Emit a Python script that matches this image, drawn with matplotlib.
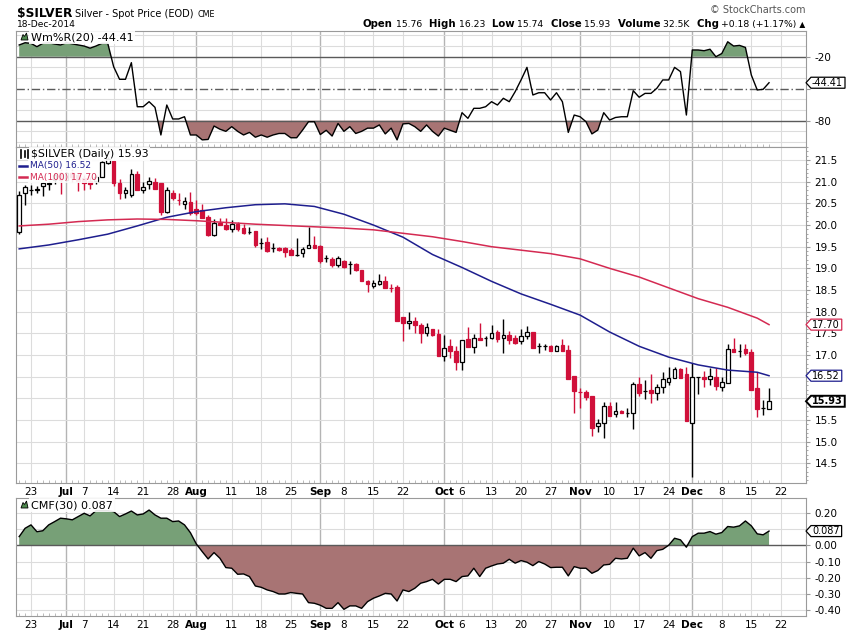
import numpy as np
import pandas as pd
import matplotlib
matplotlib.use("Agg")
import matplotlib.pyplot as plt
from matplotlib.patches import Polygon
from matplotlib.lines import Line2D

# ---------------- data ----------------
start_date = '2014-06-19'
end_date = '2014-12-29'
holidays = ['2014-07-04', '2014-09-01', '2014-11-27', '2014-12-25']

opens = [19.85, 20.75, 20.80, 20.82, 20.90, 20.95, 21.05, 21.20, 21.05, 21.20,
         21.15, 21.08, 21.02, 21.02, 21.12, 21.44, 21.48, 20.96, 20.73, 20.69,
         21.19, 20.81, 20.94, 21.00, 20.96, 20.31, 20.73, 20.59, 20.48, 20.54,
         20.38, 20.35, 20.19, 19.77, 20.04, 20.00, 19.92, 20.02, 19.94, 19.85,
         19.86, 19.58, 19.60, 19.46, 19.48, 19.46, 19.42, 19.31, 19.35, 19.48,
         19.54, 19.52, 19.23, 19.22, 19.08, 19.18, 19.09, 19.10, 18.96, 18.71,
         18.60, 18.65, 18.71, 18.55, 18.56, 17.88, 17.73, 17.78, 17.69, 17.51,
         17.59, 17.48, 16.97, 17.20, 17.10, 16.83, 17.36, 17.19, 17.40, 17.40,
         17.38, 17.53, 17.38, 17.46, 17.38, 17.33, 17.44, 17.54, 17.21, 17.21,
         17.21, 17.10, 17.23, 17.11, 16.51, 16.15, 16.15, 16.05, 15.37, 15.42,
         15.82, 15.64, 15.71, 15.67, 15.65, 16.33, 16.17, 16.19, 16.13, 16.27,
         16.38, 16.46, 16.67, 16.56, 15.42, 16.48, 16.48, 16.44, 16.48, 16.27,
         16.36, 17.14, 17.10, 17.14, 17.07, 16.23, 15.77, 15.76]
highs = [20.78, 20.93, 20.92, 20.90, 21.00, 21.02, 21.20, 21.30, 21.25, 21.30,
         21.20, 21.15, 21.10, 21.15, 21.48, 21.58, 21.50, 21.06, 20.88, 21.29,
         21.25, 21.00, 21.10, 21.08, 20.98, 20.89, 20.81, 20.75, 20.65, 20.77,
         20.58, 20.48, 20.23, 20.15, 20.17, 20.17, 20.12, 20.06, 20.02, 19.96,
         19.86, 19.71, 19.73, 19.58, 19.50, 19.50, 19.48, 19.69, 19.50, 19.95,
         19.75, 19.54, 19.31, 19.27, 19.29, 19.19, 19.17, 19.12, 18.96, 18.73,
         18.73, 18.88, 18.83, 18.65, 18.62, 17.88, 18.00, 17.88, 17.73, 17.73,
         17.61, 17.59, 17.46, 17.36, 17.20, 17.34, 17.64, 17.48, 17.74, 17.44,
         17.69, 17.58, 17.82, 17.56, 17.46, 17.59, 17.67, 17.54, 17.28, 17.25,
         17.23, 17.23, 17.36, 17.23, 16.51, 16.23, 16.20, 16.05, 15.53, 15.92,
         15.92, 15.92, 15.73, 15.77, 16.38, 16.48, 16.42, 16.57, 16.34, 16.61,
         16.73, 16.71, 16.69, 16.73, 16.82, 16.50, 16.64, 16.69, 16.69, 16.50,
         17.25, 17.38, 17.25, 17.25, 17.13, 16.61, 15.96, 16.23]
lows = [19.80, 20.47, 20.70, 20.75, 20.67, 20.80, 20.95, 20.72, 21.00, 21.00,
        20.78, 20.80, 20.83, 20.95, 21.10, 21.40, 20.90, 20.60, 20.62, 20.65,
        20.81, 20.73, 20.83, 20.83, 20.23, 20.27, 20.58, 20.47, 20.38, 20.24,
        20.24, 20.17, 19.75, 19.75, 19.99, 19.88, 19.85, 19.86, 19.79, 19.79,
        19.50, 19.45, 19.38, 19.38, 19.40, 19.27, 19.31, 19.29, 19.27, 19.46,
        19.46, 19.12, 19.15, 19.04, 19.04, 19.00, 18.88, 18.94, 18.71, 18.46,
        18.55, 18.61, 18.54, 18.46, 17.79, 17.33, 17.61, 17.51, 17.28, 17.44,
        17.44, 16.97, 16.87, 16.94, 16.65, 16.65, 17.19, 17.05, 17.34, 17.21,
        17.36, 17.31, 17.04, 17.25, 17.25, 17.25, 17.36, 17.15, 17.05, 17.11,
        17.10, 17.08, 17.10, 16.45, 15.65, 15.77, 15.96, 15.13, 15.23, 15.07,
        15.60, 15.56, 15.65, 15.56, 15.28, 16.04, 15.99, 15.88, 15.96, 16.11,
        16.30, 16.46, 16.47, 15.48, 14.19, 16.10, 16.27, 16.30, 16.20, 16.17,
        16.36, 17.07, 16.96, 17.00, 16.19, 15.56, 15.61, 15.74]
closes = [20.70, 20.87, 20.81, 20.83, 20.98, 20.96, 21.15, 21.05, 21.20, 21.12,
          21.02, 20.98, 20.95, 21.12, 21.46, 21.52, 20.96, 20.73, 20.81, 21.19,
          20.81, 20.87, 21.02, 20.84, 20.31, 20.81, 20.62, 20.57, 20.55, 20.27,
          20.28, 20.17, 19.77, 20.04, 19.99, 19.92, 20.02, 19.92, 19.81, 19.85,
          19.54, 19.58, 19.40, 19.46, 19.42, 19.38, 19.31, 19.31, 19.45, 19.54,
          19.48, 19.18, 19.23, 19.08, 19.25, 19.04, 19.09, 18.96, 18.71, 18.63,
          18.67, 18.71, 18.55, 18.54, 17.79, 17.74, 17.78, 17.68, 17.50, 17.65,
          17.46, 16.97, 17.17, 17.10, 16.84, 17.34, 17.19, 17.38, 17.34, 17.40,
          17.51, 17.37, 17.46, 17.34, 17.28, 17.44, 17.52, 17.17, 17.21, 17.21,
          17.10, 17.20, 17.10, 16.45, 16.17, 16.14, 16.02, 15.32, 15.42, 15.83,
          15.60, 15.70, 15.67, 15.67, 16.33, 16.13, 16.17, 16.13, 16.25, 16.44,
          16.46, 16.67, 16.47, 15.48, 16.48, 16.48, 16.44, 16.51, 16.28, 16.38,
          17.14, 17.07, 17.10, 17.05, 16.19, 15.74, 15.77, 15.93]

ma_days = [0, 5, 10, 15, 20, 25, 30, 35, 40, 45, 50, 55, 60, 65, 70, 75, 80, 85,
           90, 95, 100, 105, 110, 115, 120, 125, 127]
ma50 = [19.45, 19.54, 19.66, 19.79, 19.98, 20.18, 20.31, 20.40, 20.47, 20.49,
        20.43, 20.25, 20.00, 19.72, 19.32, 19.02, 18.70, 18.41, 18.17, 17.92,
        17.53, 17.20, 16.95, 16.77, 16.65, 16.60, 16.52]
ma100 = [19.98, 20.02, 20.08, 20.12, 20.14, 20.13, 20.10, 20.06, 20.02, 19.99,
         19.96, 19.93, 19.89, 19.81, 19.73, 19.62, 19.50, 19.42, 19.34, 19.22,
         19.00, 18.80, 18.55, 18.30, 18.10, 17.85, 17.70]

wpr = [-9, -6.9, -7.5, -10.6, -7.5, -6.9, -8.1, -9, -6.9, -8,
       -9, -10, -12, -10, -7.5, -7.5, -29.4, -41.2, -41.2, -25.6,
       -66.9, -66.9, -62.2, -67.5, -93.4, -65.3, -78.4, -78.4, -76.3, -93.4,
       -93.4, -98, -97.6, -85, -88, -90, -85.6, -90, -93.4, -91,
       -95.5, -93.4, -95.5, -93.4, -92, -92, -96, -96, -88.8, -81,
       -81, -93, -89, -94.4, -82.6, -90, -85.6, -92, -90, -87,
       -87, -84, -92.4, -87, -98, -83, -82.6, -85.6, -90, -84,
       -90, -94.4, -87, -89, -91, -72.5, -77.8, -68.4, -68.4, -66.9,
       -62.2, -65.3, -59, -62.2, -52.8, -41.8, -30, -55.9, -53.8, -53.8,
       -60.6, -53.8, -62.2, -91, -74.7, -76.3, -81, -92.4, -88.8, -72.5,
       -79.4, -77, -76.3, -76.3, -51.9, -58, -54.4, -54.4, -49.6, -41.8,
       -41.8, -30, -34, -74.7, -13.7, -13.7, -14.4, -13, -20, -17,
       -6, -10, -9.4, -11.3, -37.2, -51.2, -50.6, -44.41]

cmf = [0.053, 0.104, 0.125, 0.083, 0.089, 0.125, 0.145, 0.166, 0.162, 0.156,
       0.176, 0.196, 0.18, 0.212, 0.212, 0.212, 0.206, 0.176, 0.192, 0.21,
       0.186, 0.192, 0.216, 0.186, 0.166, 0.166, 0.145, 0.149, 0.125, 0.077,
       0.008, -0.039, -0.084, -0.045, -0.08, -0.137, -0.141, -0.178, -0.176, -0.192,
       -0.25, -0.258, -0.274, -0.284, -0.299, -0.299, -0.29, -0.295, -0.299, -0.352,
       -0.356, -0.368, -0.387, -0.387, -0.352, -0.393, -0.372, -0.372, -0.387, -0.346,
       -0.325, -0.311, -0.295, -0.299, -0.342, -0.274, -0.284, -0.264, -0.233, -0.223,
       -0.209, -0.238, -0.209, -0.209, -0.223, -0.192, -0.188, -0.141, -0.192, -0.141,
       -0.127, -0.115, -0.11, -0.086, -0.11, -0.094, -0.104, -0.125, -0.1, -0.115,
       -0.137, -0.135, -0.135, -0.188, -0.131, -0.141, -0.141, -0.172, -0.155, -0.121,
       -0.117, -0.08, -0.084, -0.08, -0.018, -0.065, -0.045, -0.08, -0.033, -0.025,
       0.0, 0.043, 0.033, -0.012, 0.053, 0.074, 0.074, 0.084, 0.068, 0.078,
       0.115, 0.111, 0.119, 0.149, 0.119, 0.07, 0.064, 0.087]

tick_dates = ['2014-06-23', '2014-07-01', '2014-07-07', '2014-07-14', '2014-07-21',
              '2014-07-28', '2014-08-01', '2014-08-11', '2014-08-18', '2014-08-25',
              '2014-09-02', '2014-09-08', '2014-09-15', '2014-09-22', '2014-10-01',
              '2014-10-06', '2014-10-13', '2014-10-20', '2014-10-27', '2014-11-03',
              '2014-11-10', '2014-11-17', '2014-11-24', '2014-12-01', '2014-12-08',
              '2014-12-15', '2014-12-22']
tick_labels = ['23', 'Jul', '7', '14', '21', '28', 'Aug', '11', '18', '25',
               'Sep', '8', '15', '22', 'Oct', '6', '13', '20', '27', 'Nov',
               '10', '17', '24', 'Dec', '8', '15', '22']
month_names = ['Jul', 'Aug', 'Sep', 'Oct', 'Nov', 'Dec']

wpr_ticks = [-20, -50, -80]
price_ticks = [14.5, 15.0, 15.5, 16.0, 16.5, 17.0, 17.5, 18.0, 18.5, 19.0, 19.5,
               20.0, 20.5, 21.0, 21.5]
cmf_ticks = [0.2, 0.1, 0.0, -0.1, -0.2, -0.3, -0.4]

header_title = '$SILVER'
header_sub = 'Silver - Spot Price (EOD)'
header_exch = 'CME'
header_date = '18-Dec-2014'
quote_pieces = [('Open', True), (' 15.76', False), ('  High', True), (' 16.23', False),
                ('  Low', True), (' 15.74', False), ('  Close', True), (' 15.93', False),
                ('  Volume', True), (' 32.5K', False), ('  Chg', True),
                (' +0.18 (+1.17%)', False)]

# ---------------- style ----------------
plt.rcParams['font.family'] = ['DejaVu Sans']
RED = '#d0103a'
NAVY = '#1e1e8e'
MA100C = '#d42a52'
GREEN = '#77a077'
BROWN = '#a87474'
GRID = '#dcdcdc'
GRIDM = '#b4b4b4'
SPINE = '#9a9a9a'

W, H = 850, 633
fig = plt.figure(figsize=(W / 100, H / 100), dpi=100)
fig.patch.set_facecolor('white')

L_PX, R_PX = 16, 806
PANELS = {'w': (31, 146.7), 'p': (146.7, 483.3), 'c': (498.3, 616)}
YL = {'w': (-104.4, 4.1), 'p': (14.035, 21.81), 'c': (-0.434, 0.288)}


def pos(y0, y1):
    return [L_PX / W, 1 - y1 / H, (R_PX - L_PX) / W, (y1 - y0) / H]


def fx(px):
    return px / W


def fy(py):
    return 1 - py / H


def val_px(panel, v):
    t, b = PANELS[panel]
    lo, hi = YL[panel]
    return t + (hi - v) / (hi - lo) * (b - t)


ax_w = fig.add_axes(pos(*PANELS['w']))
ax_p = fig.add_axes(pos(*PANELS['p']))
ax_c = fig.add_axes(pos(*PANELS['c']))

days = pd.bdate_range(start_date, end_date, freq='C', holidays=holidays)
n = len(closes)
x = np.arange(n)
XLIM = (-0.54, len(days) - 1 + 0.26)
tick_idx = [days.get_loc(pd.Timestamp(d)) for d in tick_dates]

# values shown in the right-hand tags (panel, value, text, edge colour, bold)
tags = [('w', wpr[-1], '%.2f' % wpr[-1], 'black', False),
        ('p', ma100[-1], '%.2f' % ma100[-1], MA100C, False),
        ('p', ma50[-1], '%.2f' % ma50[-1], NAVY, False),
        ('p', closes[-1], '%.2f' % closes[-1], 'black', True),
        ('c', cmf[-1], '%.3f' % cmf[-1], 'black', False)]


def tick_texts(panel, ticks, fmt):
    out = []
    for v in ticks:
        hidden = any(tp == panel and abs(val_px(panel, v) - val_px(panel, tv)) < 7
                     for tp, tv, _, _, _ in tags)
        out.append('' if hidden else fmt % v)
    return out


for ax in (ax_w, ax_p, ax_c):
    ax.set_xlim(*XLIM)
    for s in ax.spines.values():
        s.set_color(SPINE)
        s.set_linewidth(0.8)
    for ti, lab in zip(tick_idx, tick_labels):
        is_m = lab in month_names
        ax.axvline(ti, color=GRIDM if is_m else GRID, lw=1.0 if is_m else 0.8, zorder=0)
    ax.yaxis.tick_right()
    ax.tick_params(axis='y', which='both', right=True, left=False, labelright=True,
                   labelleft=False, labelsize=7.5, pad=3, colors='black')
    ax.tick_params(axis='y', which='major', length=3, color=SPINE)
    ax.tick_params(axis='y', which='minor', length=1.5, color=SPINE)
    ax.set_xticks(x, minor=True)
    ax.tick_params(axis='x', which='minor', direction='in', length=2, color='#b0b0b0',
                   bottom=True, top=False)

# ---- Williams %R panel ----
w = np.array(wpr)
ax_w.set_ylim(*YL['w'])
for lev in range(-100, 1, 10):
    if lev not in (-20, -50, -80):
        ax_w.axhline(lev, color=GRID, lw=0.8, zorder=0)
ax_w.fill_between(x, w, -20, where=w >= -20, interpolate=True, color=GREEN, lw=0, zorder=1)
ax_w.fill_between(x, w, -80, where=w <= -80, interpolate=True, color=BROWN, lw=0, zorder=1)
ax_w.axhline(-20, color='#5a5a5a', lw=1.0, zorder=2)
ax_w.axhline(-80, color='#5a5a5a', lw=1.0, zorder=2)
ax_w.axhline(-50, color='#5a5a5a', lw=1.0, ls=(0, (6, 2, 1, 2)), zorder=2)
ax_w.plot(x, w, color='black', lw=1.0, zorder=3)
ax_w.set_yticks(wpr_ticks)
ax_w.set_yticklabels(tick_texts('w', wpr_ticks, '%d'))
ax_w.set_xticks(tick_idx)
ax_w.tick_params(axis='x', which='major', length=0, labelbottom=False)

# ---- price panel ----
ax_p.set_ylim(*YL['p'])
for v in price_ticks:
    ax_p.axhline(v, color=GRID, lw=0.8, zorder=0)
ax_p.set_yticks(price_ticks)
ax_p.set_yticklabels(tick_texts('p', price_ticks, '%.1f'))
ax_p.set_yticks(np.arange(14.1, 21.81, 0.1), minor=True)

o = np.array(opens); hh = np.array(highs); ll = np.array(lows); c = np.array(closes)
up = c >= o
edge = np.where(up, 'black', RED)
face = np.where(up, 'white', RED)
ax_p.vlines(x, ll, hh, colors=edge, lw=1.0, zorder=2)
ax_p.bar(x, np.abs(c - o), bottom=np.minimum(o, c), width=0.62, color=face,
         edgecolor=edge, linewidth=0.9, zorder=3)
ax_p.plot(ma_days, ma50, color=NAVY, lw=1.1, zorder=4)
ax_p.plot(ma_days, ma100, color=MA100C, lw=1.1, zorder=4)

ax_p.set_xticks(tick_idx)
ax_p.set_xticklabels(tick_labels)
ax_p.tick_params(axis='x', which='major', length=0, labelsize=7.5, pad=3)
for lbl in ax_p.get_xticklabels():
    if lbl.get_text() in month_names:
        lbl.set_fontweight('bold')

# ---- CMF panel ----
cm = np.array(cmf)
ax_c.set_ylim(*YL['c'])
for v in cmf_ticks:
    if abs(v) > 1e-9:
        ax_c.axhline(v, color=GRID, lw=0.8, zorder=0)
ax_c.fill_between(x, cm, 0, where=cm >= 0, interpolate=True, color=GREEN, lw=0, zorder=1)
ax_c.fill_between(x, cm, 0, where=cm <= 0, interpolate=True, color=BROWN, lw=0, zorder=1)
ax_c.axhline(0, color='#5a5a5a', lw=1.0, zorder=2)
ax_c.plot(x, cm, color='black', lw=1.0, zorder=3)
ax_c.set_yticks(cmf_ticks)
ax_c.set_yticklabels(tick_texts('c', cmf_ticks, '%.2f'))
ax_c.set_xticks(tick_idx)
ax_c.set_xticklabels(tick_labels)
ax_c.tick_params(axis='x', which='major', length=0, labelsize=7.5, pad=3)
for lbl in ax_c.get_xticklabels():
    if lbl.get_text() in month_names:
        lbl.set_fontweight('bold')

renderer = fig.canvas.get_renderer()


def tag(py, text, ec, bold=False):
    tip = R_PX
    x1, h = tip + 5, 5.5
    t = fig.text(fx(x1 + 1), fy(py), text, fontsize=7, va='center', ha='left',
                 fontweight='bold' if bold else 'normal', zorder=6)
    tw = t.get_window_extent(renderer=renderer).width
    x2 = x1 + tw + 3
    verts = [(tip, py), (x1, py - h), (x2, py - h), (x2, py + h), (x1, py + h)]
    fig.add_artist(Polygon([(fx(a), fy(b)) for a, b in verts], closed=True,
                           transform=fig.transFigure, facecolor='white',
                           edgecolor=ec, lw=1.4 if bold else 0.9, zorder=5))


for panel, v, txt, ec, bold in tags:
    tag(val_px(panel, v), txt, ec, bold)

# panel legends
lbbox = dict(facecolor='white', edgecolor='none', alpha=0.9, pad=1.2)


def mountain(px, py):
    pts = [(px, py + 3.5), (px + 2, py - 2), (px + 3.5, py), (px + 5.5, py - 3.5), (px + 7, py + 3.5)]
    fig.add_artist(Polygon([(fx(a), fy(b)) for a, b in pts], closed=True,
                           transform=fig.transFigure, facecolor='#4f8a4f',
                           edgecolor='black', lw=0.6, zorder=6))


mountain(21, 36.5)
fig.text(fx(31), fy(37), 'Wm%%R(20) %.2f' % wpr[-1], fontsize=8, va='center',
         ha='left', bbox=lbbox, zorder=5)
mountain(21, 504.5)
fig.text(fx(31), fy(505), 'CMF(30) %.3f' % cmf[-1], fontsize=8, va='center',
         ha='left', bbox=lbbox, zorder=5)

fig.text(fx(31), fy(154), '$SILVER (Daily) %.2f' % closes[-1], fontsize=7.8,
         va='center', ha='left', bbox=lbbox, zorder=5)
fig.text(fx(29.5), fy(165.7), 'MA(50) %.2f' % ma50[-1], fontsize=6.5, color=NAVY,
         va='center', ha='left', bbox=lbbox, zorder=5)
fig.text(fx(29.5), fy(177.2), 'MA(100) %.2f' % ma100[-1], fontsize=6.5, color=MA100C,
         va='center', ha='left', bbox=lbbox, zorder=5)
fig.add_artist(Line2D([fx(19), fx(27)], [fy(165.7), fy(165.7)], transform=fig.transFigure,
                      color=NAVY, lw=1.8, zorder=6))
fig.add_artist(Line2D([fx(19), fx(27)], [fy(177.2), fy(177.2)], transform=fig.transFigure,
                      color=MA100C, lw=1.8, zorder=6))
for cx, y0, y1 in ((21, 150, 158), (24.5, 151, 157), (28, 150, 158)):
    fig.add_artist(Line2D([fx(cx), fx(cx)], [fy(y0), fy(y1)], transform=fig.transFigure,
                          color='black', lw=1.2, zorder=6))

# ---------------- header ----------------
t1 = fig.text(fx(17), fy(17), header_title, fontsize=8.8, fontweight='bold',
              va='baseline', ha='left')
bx = t1.get_window_extent(renderer=renderer).x1
t2 = fig.text((bx + 3) / W, fy(17), header_sub, fontsize=7, va='baseline', ha='left')
bx = t2.get_window_extent(renderer=renderer).x1
fig.text((bx + 4) / W, fy(17), header_exch, fontsize=5.8, va='baseline', ha='left')
fig.text(fx(17), fy(27), header_date, fontsize=6.6, va='baseline', ha='left')

fig.text(fx(805), fy(13), '\u00a9 StockCharts.com', fontsize=7, color='#555555',
         va='baseline', ha='right')

xr = 805
tri = fig.text(fx(xr), fy(27), ' \u25b2', fontsize=5.5, va='baseline', ha='right')
xr -= tri.get_window_extent(renderer=renderer).width
for s, b in reversed(quote_pieces):
    t = fig.text(xr / W, fy(27), s, fontsize=7.3 if b else 6.7,
                 fontweight='bold' if b else 'normal', va='baseline', ha='right')
    xr -= t.get_window_extent(renderer=renderer).width

fig.savefig('out.png', dpi=100, facecolor='white')
